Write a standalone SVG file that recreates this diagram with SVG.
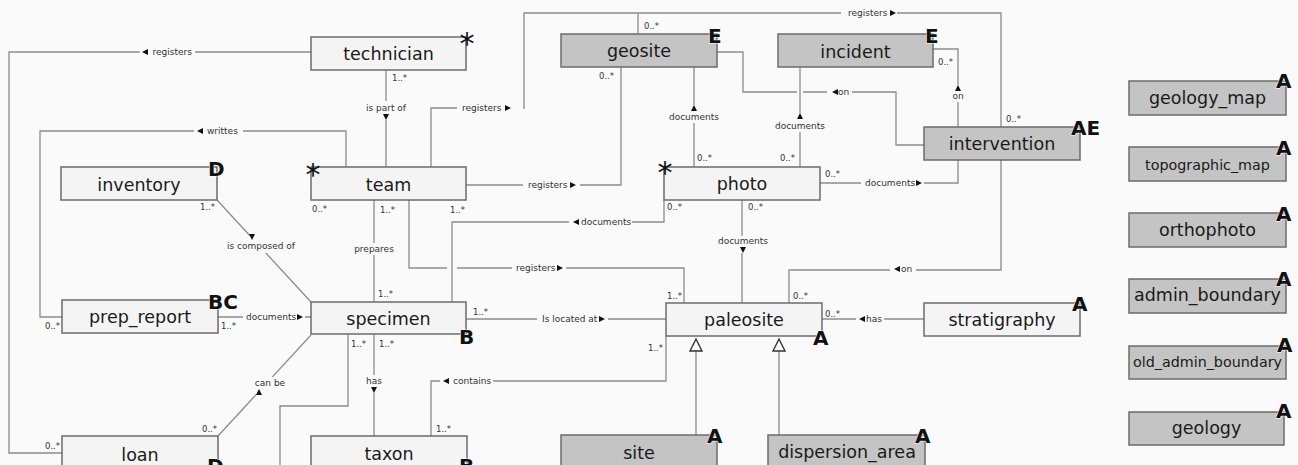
<svg xmlns="http://www.w3.org/2000/svg" width="1298" height="465" viewBox="0 0 1298 465">
<style>
.box{fill:#f4f4f4;stroke:#6b6b6b;stroke-width:1.5}
.gbox{fill:#c4c4c4;stroke:#6b6b6b;stroke-width:1.5}
.nt{font-family:"DejaVu Sans",sans-serif;font-size:17.5px;fill:#1a1a1a;text-anchor:middle}
.ns{font-size:14.3px}
.tag{font-family:"DejaVu Sans",sans-serif;font-weight:bold;font-size:20px;fill:#111;stroke:#fff;stroke-width:1;paint-order:stroke}
.ast{font-family:"DejaVu Sans",sans-serif;font-size:30px;fill:#111;text-anchor:middle}
.ln{fill:none;stroke:#8c8c8c;stroke-width:1.3}
.lb{font-family:"DejaVu Sans",sans-serif;font-size:9px;fill:#333}
.c{text-anchor:middle}
.m{font-family:"DejaVu Sans",sans-serif;font-size:8.5px;fill:#333}
.bg{fill:#fafafa}
.tri{fill:#111}
.gen{fill:#fafafa;stroke:#333;stroke-width:1.4}
</style>
<defs>
<path id="tR" class="tri" d="M0,-3L6,0L0,3Z"/>
<path id="tL" class="tri" d="M0,0L6,-3L6,3Z"/>
<path id="tU" class="tri" d="M0,0L3,6L-3,6Z"/>
<path id="tD" class="tri" d="M-3,0L3,0L0,6Z"/>
</defs>
<rect width="1298" height="465" fill="#fafafa"/>
<g id="connectors">
<path class="ln" d="M311,52 H9 V453 H62"/>
<path class="ln" d="M346,167 V131 H40 V317 H62"/>
<path class="ln" d="M386,70 V167"/>
<path class="ln" d="M431,167 V108 H524 V13 H1001 V127"/>
<path class="ln" d="M638,13 V34"/>
<path class="ln" d="M466,185 H621 V67"/>
<path class="ln" d="M217,200 L311,302"/>
<path class="ln" d="M218,317 H311"/>
<path class="ln" d="M374,200 V302"/>
<path class="ln" d="M409,200 V268 H447 M457,268 H684 V303"/>
<path class="ln" d="M452,302 V222 H664 V200"/>
<path class="ln" d="M694,67 V167"/>
<path class="ln" d="M800,67 V167"/>
<path class="ln" d="M820,183 H958 V160"/>
<path class="ln" d="M742,200 V303"/>
<path class="ln" d="M1001,160 V270 H789 V303"/>
<path class="ln" d="M924,319 H822"/>
<path class="ln" d="M466,319 H666"/>
<path class="ln" d="M431,436 V381 H666 V336"/>
<path class="ln" d="M374,334 V436"/>
<path class="ln" d="M348,334 V406 H280 V465"/>
<path class="ln" d="M218,436 L311,335"/>
<path class="ln" d="M717,52 H743 V92 H797 M803,92 H896 V145 H924"/>
<path class="ln" d="M933,49 H958 V127"/>
<path class="ln" d="M696,435 V351 M779,435 V351"/>
<path class="gen" d="M696,339 L702,351 L690,351 Z"/>
<path class="gen" d="M779,339 L785,351 L773,351 Z"/>
<!-- label backgrounds -->
<rect class="bg" x="140" y="46" width="55" height="12"/>
<rect class="bg" x="194" y="125" width="49" height="12"/>
<rect class="bg" x="362" y="101" width="48" height="19"/>
<rect class="bg" x="457" y="102" width="66" height="12"/>
<rect class="bg" x="841" y="7" width="56" height="12"/>
<rect class="bg" x="523" y="179" width="57" height="12"/>
<rect class="bg" x="227" y="236" width="68" height="17"/>
<rect class="bg" x="243" y="311" width="62" height="12"/>
<rect class="bg" x="353" y="243" width="42" height="12"/>
<rect class="bg" x="512" y="262" width="54" height="12"/>
<rect class="bg" x="569" y="216" width="63" height="12"/>
<rect class="bg" x="669" y="105" width="50" height="18"/>
<rect class="bg" x="775" y="113" width="50" height="19"/>
<rect class="bg" x="861" y="177" width="63" height="12"/>
<rect class="bg" x="718" y="236" width="50" height="17"/>
<rect class="bg" x="890" y="263" width="26" height="12"/>
<rect class="bg" x="856" y="313" width="28" height="12"/>
<rect class="bg" x="537" y="313" width="71" height="12"/>
<rect class="bg" x="440" y="375" width="53" height="12"/>
<rect class="bg" x="362" y="375" width="24" height="18"/>
<rect class="bg" x="252" y="377" width="35" height="17"/>
<rect class="bg" x="827" y="86" width="25" height="12"/>
<rect class="bg" x="950" y="85" width="16" height="17"/>
<!-- labels -->
<use href="#tL" x="142" y="52"/><text class="lb" x="152.5" y="55">registers</text>
<use href="#tL" x="197" y="131"/><text class="lb" x="207" y="134">writtes</text>
<text class="lb c" x="386" y="111">is part of</text><use href="#tD" x="386" y="114"/>
<text class="lb" x="462" y="111">registers</text><use href="#tR" x="505" y="108"/>
<text class="lb" x="848" y="16">registers</text><use href="#tR" x="890" y="13"/>
<text class="lb" x="528" y="188">registers</text><use href="#tR" x="570" y="185"/>
<use href="#tD" x="252" y="234"/><text class="lb c" x="261" y="249">is composed of</text>
<text class="lb" x="246" y="320">documents</text><use href="#tR" x="297" y="317"/>
<text class="lb c" x="374" y="252">prepares</text>
<text class="lb" x="516" y="271">registers</text><use href="#tR" x="557" y="268"/>
<use href="#tL" x="573" y="222"/><text class="lb" x="581" y="225">documents</text>
<use href="#tU" x="694" y="105"/><text class="lb c" x="694" y="120">documents</text>
<use href="#tU" x="800" y="113"/><text class="lb c" x="800" y="129">documents</text>
<text class="lb" x="865" y="186">documents</text><use href="#tR" x="916" y="183"/>
<text class="lb c" x="743" y="244">documents</text><use href="#tD" x="743" y="247"/>
<use href="#tL" x="894" y="269"/><text class="lb" x="901" y="272">on</text>
<use href="#tL" x="859" y="319"/><text class="lb" x="866" y="322">has</text>
<text class="lb" x="542" y="322">Is located at</text><use href="#tR" x="599" y="319"/>
<use href="#tL" x="443" y="381"/><text class="lb" x="453" y="384">contains</text>
<text class="lb c" x="374" y="384">has</text><use href="#tD" x="374" y="387"/>
<text class="lb c" x="270" y="386">can be</text><use href="#tU" x="259" y="389"/>
<use href="#tL" x="832" y="92"/><text class="lb" x="838" y="95">on</text>
<use href="#tU" x="958" y="85"/><text class="lb c" x="958" y="99">on</text>
<!-- multiplicities -->
<text class="m" x="392" y="81">1..*</text>
<text class="m" x="644" y="29">0..*</text>
<text class="m" x="599" y="79">0..*</text>
<text class="m" x="938" y="65">0..*</text>
<text class="m" x="1006" y="122">0..*</text>
<text class="m" x="200" y="210">1..*</text>
<text class="m" x="312" y="211.5">0..*</text>
<text class="m" x="380" y="213">1..*</text>
<text class="m" x="450" y="213">1..*</text>
<text class="m" x="378" y="296.5">1..*</text>
<text class="m" x="473" y="315">1..*</text>
<text class="m" x="45" y="329">0..*</text>
<text class="m" x="221" y="329">1..*</text>
<text class="m" x="45" y="449">0..*</text>
<text class="m" x="202" y="431.5">0..*</text>
<text class="m" x="351" y="346.5">1..*</text>
<text class="m" x="379" y="346.5">1..*</text>
<text class="m" x="436" y="431.5">1..*</text>
<text class="m" x="648" y="351">1..*</text>
<text class="m" x="825" y="317">0..*</text>
<text class="m" x="667" y="299">1..*</text>
<text class="m" x="793" y="299">0..*</text>
<text class="m" x="697" y="160.5">0..*</text>
<text class="m" x="780" y="160.5">0..*</text>
<text class="m" x="825" y="177">0..*</text>
<text class="m" x="667" y="210">0..*</text>
<text class="m" x="748" y="210">0..*</text>
</g>
<g id="n-technician"><rect class="box" x="311" y="37" width="155" height="33"/><text class="nt" x="388.5" y="60">technician</text><text class="ast" x="467" y="54">*</text></g>
<g id="n-team"><rect class="box" x="311" y="167" width="155" height="33"/><text class="nt" x="388.5" y="190.5">team</text><text class="ast" x="313" y="185">*</text></g>
<g id="n-inventory"><rect class="box" x="61" y="167" width="156" height="33"/><text class="nt" x="139" y="190.5">inventory</text><text class="tag" x="208" y="176">D</text></g>
<g id="n-prep_report"><rect class="box" x="62" y="300" width="156" height="33"/><text class="nt" x="140" y="323">prep_report</text><text class="tag" x="208" y="309">BC</text></g>
<g id="n-specimen"><rect class="box" x="311" y="302" width="155" height="32"/><text class="nt" x="388.5" y="324.5">specimen</text><text class="tag" x="459" y="344">B</text></g>
<g id="n-loan"><rect class="box" x="62" y="436" width="156" height="40"/><text class="nt" x="140" y="461">loan</text><text class="tag" x="207" y="473">D</text></g>
<g id="n-taxon"><rect class="box" x="311" y="436" width="156" height="40"/><text class="nt" x="389" y="460">taxon</text><text class="tag" x="459" y="473">B</text></g>
<g id="n-geosite"><rect class="gbox" x="561" y="34" width="156" height="33"/><text class="nt" x="639" y="57">geosite</text><text class="tag" x="708" y="43">E</text></g>
<g id="n-incident"><rect class="gbox" x="778" y="34" width="155" height="33"/><text class="nt" x="855.5" y="57.5">incident</text><text class="tag" x="925" y="43">E</text></g>
<g id="n-photo"><rect class="box" x="664" y="167" width="156" height="33"/><text class="nt" x="742" y="190">photo</text><text class="ast" x="665" y="183">*</text></g>
<g id="n-paleosite"><rect class="box" x="666" y="303" width="156" height="33"/><text class="nt" x="744" y="325.5">paleosite</text><text class="tag" x="813" y="345">A</text></g>
<g id="n-stratigraphy"><rect class="box" x="924" y="303" width="156" height="33"/><text class="nt" x="1002" y="326">stratigraphy</text><text class="tag" x="1072" y="311">A</text></g>
<g id="n-intervention"><rect class="gbox" x="924" y="127" width="156" height="33"/><text class="nt" x="1002" y="150">intervention</text><text class="tag" x="1071" y="135">AE</text></g>
<g id="n-site"><rect class="gbox" x="561" y="435" width="156" height="40"/><text class="nt" x="639" y="459">site</text><text class="tag" x="707" y="443">A</text></g>
<g id="n-dispersion_area"><rect class="gbox" x="768" y="435" width="157" height="40"/><text class="nt" x="847" y="458">dispersion_area</text><text class="tag" x="915" y="443">A</text></g>
<g id="n-geology_map"><rect class="gbox" x="1129" y="81" width="157" height="34"/><text class="nt" x="1207.5" y="104">geology_map</text><text class="tag" x="1276" y="88">A</text></g>
<g id="n-topographic_map"><rect class="gbox" x="1129" y="147" width="157" height="34"/><text class="nt ns" x="1207.5" y="169.5">topographic_map</text><text class="tag" x="1276" y="155">A</text></g>
<g id="n-orthophoto"><rect class="gbox" x="1129" y="213" width="157" height="34"/><text class="nt" x="1207.5" y="235.5">orthophoto</text><text class="tag" x="1276" y="220.5">A</text></g>
<g id="n-admin_boundary"><rect class="gbox" x="1129" y="279" width="157" height="34"/><text class="nt" x="1207.5" y="301">admin_boundary</text><text class="tag" x="1276" y="286">A</text></g>
<g id="n-old_admin_boundary"><rect class="gbox" x="1129" y="346" width="157" height="33"/><text class="nt ns" x="1207.5" y="366.5">old_admin_boundary</text><text class="tag" x="1277" y="352">A</text></g>
<g id="n-geology"><rect class="gbox" x="1129" y="412" width="155" height="33"/><text class="nt" x="1206.5" y="433.5">geology</text><text class="tag" x="1276" y="418">A</text></g>
</svg>
